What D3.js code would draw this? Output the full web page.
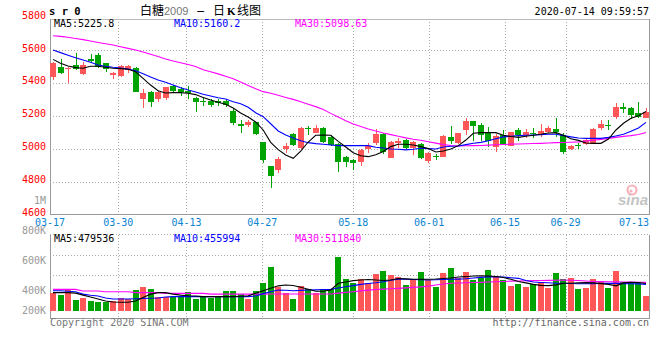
<!DOCTYPE html>
<html><head><meta charset="utf-8">
<script src="https://cdn.jsdelivr.net/npm/d3@7/dist/d3.min.js"></script>
<style>html,body{margin:0;padding:0;background:#fff;}svg{display:block}</style>
</head><body><svg id="c" width="660" height="360"></svg>
<script>
// ---------- DATA ----------
const dates = ["03-17","03-18","03-19","03-20","03-23","03-24","03-25","03-26","03-27","03-30","03-31",
"04-01","04-02","04-03","04-07","04-08","04-09","04-10","04-13","04-14","04-15","04-16","04-17","04-20","04-21","04-22","04-23","04-24","04-27","04-28","04-29","04-30",
"05-06","05-07","05-08","05-11","05-12","05-13","05-14","05-15","05-18","05-19","05-20","05-21","05-22","05-25","05-26","05-27","05-28","05-29",
"06-01","06-02","06-03","06-04","06-05","06-08","06-09","06-10","06-11","06-12","06-15","06-16","06-17","06-18","06-19","06-22","06-23","06-24","06-29","06-30",
"07-01","07-02","07-03","07-06","07-07","07-08","07-09","07-10","07-13","07-14"];
const open  = [5438,5499,5482,5507,5454,5545,5570,5519,5446,5442,5478,5489,5302,5347,5302,5310,5381,5361,5351,5310,5290,5290,5290,5292,5231,5150,5144,5161,5041,4895,4871,5001,5090,5003,5128,5094,5128,5074,5029,4952,4932,4922,4997,5033,5090,4942,5033,5053,5003,5029,4928,4958,4952,5069,5037,5114,5169,5144,5098,5013,5084,5019,5114,5084,5094,5090,5104,5120,5084,5001,5023,5029,5029,5124,5147,5191,5252,5248,5215,5189];
const high  = [5529,5543,5495,5580,5529,5574,5584,5523,5468,5509,5507,5495,5361,5349,5351,5377,5385,5377,5381,5316,5306,5300,5300,5296,5246,5175,5175,5165,5041,4895,4952,5033,5098,5134,5138,5142,5134,5084,5033,4956,4936,4997,5033,5118,5094,5049,5063,5057,5049,5033,4980,4968,5084,5138,5098,5185,5169,5159,5130,5090,5114,5104,5124,5118,5124,5150,5138,5185,5098,5023,5037,5057,5128,5175,5175,5276,5280,5252,5286,5250];
const low   = [5418,5454,5398,5478,5448,5519,5489,5468,5426,5434,5462,5345,5246,5256,5286,5296,5341,5320,5302,5225,5260,5252,5260,5252,5144,5094,5134,5084,4916,4764,4851,4972,5017,4997,5084,5094,5037,5017,4861,4891,4871,4897,4976,5023,4966,4942,5003,4997,4962,4936,4911,4932,4948,5029,5029,5084,5049,5049,5013,4982,5023,5017,5049,5063,5063,5074,5094,5074,4968,4993,4997,5021,5027,5114,5114,5179,5215,5179,5185,5185];
const close = [5519,5462,5490,5487,5509,5533,5499,5485,5458,5503,5503,5347,5341,5286,5347,5373,5351,5347,5337,5286,5286,5266,5276,5264,5159,5138,5165,5088,4932,4837,4936,5017,5023,5128,5118,5128,5043,5023,4922,4918,4916,4993,5017,5090,4978,5043,5049,5003,5043,4942,4976,4948,5078,5049,5094,5169,5138,5084,5049,5078,5029,5100,5084,5100,5090,5108,5128,5100,4982,5017,5019,5053,5122,5150,5142,5252,5244,5205,5195,5225];
const ma5   = [5543,5519,5503,5493,5489,5501,5501,5495,5489,5487,5483,5468,5428,5387,5353,5339,5341,5341,5337,5329,5312,5296,5282,5270,5248,5217,5193,5163,5114,5039,4995,4962,4942,4986,5041,5082,5084,5082,5045,5011,4976,4958,4952,4964,4984,5013,5027,5027,5023,5013,5001,4980,4986,4999,5019,5053,5094,5098,5098,5098,5082,5074,5069,5076,5082,5088,5096,5098,5082,5061,5051,5035,5033,5033,5059,5114,5155,5185,5201,5225.8];
const ma10  = [5600,5584,5568,5553,5539,5525,5509,5501,5495,5491,5485,5474,5456,5436,5418,5404,5387,5371,5357,5345,5331,5321,5310,5302,5286,5274,5252,5219,5195,5152,5108,5084,5065,5049,5037,5031,5027,5023,5019,5019,5019,5019,5019,5009,5005,4999,4997,4993,4997,5003,5001,4999,5011,5015,5017,5025,5033,5039,5049,5061,5072,5076,5080,5082,5084,5086,5088,5088,5080,5072,5065,5063,5063,5063,5069,5078,5088,5106,5126,5160.2];
const ma30  = [5687,5683,5677,5670,5663,5655,5646,5638,5630,5620,5610,5600,5588,5574,5560,5545,5533,5522,5512,5500,5480,5468,5455,5440,5425,5405,5385,5365,5347,5337,5325,5312,5300,5285,5270,5256,5238,5215,5193,5170,5150,5135,5120,5108,5096,5086,5076,5066,5058,5052,5043,5034,5025,5020,5017,5018,5019,5020,5022,5024,5026,5028,5029,5030,5032,5033,5035,5037,5038,5040,5042,5047,5052,5057,5063,5069,5075,5080,5087,5098.63];
// volume in thousands
const volume = [378,361,419,310,333,300,292,286,300,330,320,412,446,423,344,344,344,344,392,320,354,333,344,402,402,368,320,405,487,651,446,385,317,456,423,378,423,419,748,525,487,522,481,576,607,566,543,464,522,597,515,446,587,638,532,597,515,532,617,543,515,456,474,443,471,497,433,587,522,535,423,433,525,497,433,607,497,497,497,354];
const volMa5  = [385,385,385,380,360,340,320,300,290,286,286,300,335,370,385,385,370,360,354,350,344,344,344,344,344,348,352,380,405,430,455,464,458,440,420,400,400,412,481,495,508,515,520,515,510,515,530,526,522,522,522,525,530,535,545,549,556,558,556,550,540,522,500,485,470,460,457,465,481,481,485,488,485,478,470,455,485,491,490,479.5];
const volMa10 = [405,405,400,395,370,358,350,330,320,320,320,322,325,327,330,340,344,344,344,344,344,344,344,344,344,344,344,350,375,395,412,410,405,408,412,414,417,419,432,446,457,470,479,486,497,512,524,522,520,517,515,517,520,522,524,527,535,542,547,548,545,538,532,510,495,490,486,482,481,479,476,476,478,480,481,480,478,476,475,470];
const volMa30 = [419,419,419,419,402,402,402,395,395,395,395,385,385,385,385,378,378,378,378,378,378,370,370,370,370,370,370,370,370,372,372,372,372,372,372,372,372,372,380,388,395,403,411,417,421,425,429,434,439,444,452,463,474,481,484,487,489,491,494,497,500,503,505,507,508,510,511,513,515,513,510,505,500,498,497,496,495,494,492,491];
const dateTicks  = ["03-17","03-30","04-13","04-27","05-18","06-01","06-15","06-29","07-13"];
const priceTicks = [5800,5600,5400,5200,5000,4800,4600];
const priceGrid  = [5600,5400,5200,5000,4800];
const volTicks   = ["800K","600K","400K","200K"];
const priceLegend = ["MA5:5225.8","MA10:5160.2","MA30:5098.63"];
const volLegend   = ["MA5:479536","MA10:455994","MA30:511840"];

// ---------- DRAW ----------
const svg = d3.select("#c");
const L=50, R=649, T=19, B=213.5, VT=234.5, VB=318.5;
const N = dates.length;
const MONO = "'DejaVu Sans Mono', monospace";
const RED = "#ff5757", GREEN = "#00a400";
const x  = d3.scaleLinear().domain([0, N-1]).range([53, 646]);
const xg = d3.scaleLinear().domain([0, N-1]).range([L, R]);
const y  = d3.scaleLinear().domain([4600, 5600]).range([214.6, 50]);
const yv = d3.scaleLinear().domain([200, 400]).range([310.7, 291.2]);
const cx = i => Math.round(x(i));

// grids
const grid = svg.append("g").attr("stroke","#aaa").attr("stroke-dasharray","1,2").attr("shape-rendering","crispEdges");
priceGrid.forEach(v=>{
  const gy = Math.round(y(v))+0.5;
  grid.append("line").attr("x1",L).attr("x2",R).attr("y1",gy).attr("y2",gy);
});
[255.5, 275.5].forEach(gy=>grid.append("line").attr("x1",L).attr("x2",R).attr("y1",gy).attr("y2",gy));
const tickIdx = dateTicks.map(d=>dates.indexOf(d));
tickIdx.forEach((i,k)=>{
  if (i===0 || k===dateTicks.length-1) return;
  const gx = Math.round(xg(i))+0.5;
  grid.append("line").attr("x1",gx).attr("x2",gx).attr("y1",T).attr("y2",B);
  grid.append("line").attr("x1",gx).attr("x2",gx).attr("y1",VT).attr("y2",VB);
});
grid.append("line").attr("x1",L).attr("x2",R).attr("y1",VT).attr("y2",VT);

// frames
const fr = svg.append("g").attr("stroke","#999").attr("shape-rendering","crispEdges").attr("fill","none");
fr.append("line").attr("x1",L).attr("x2",R+0.5).attr("y1",T+0.5).attr("y2",T+0.5).attr("stroke","#bbb");
fr.append("line").attr("x1",L+0.5).attr("x2",L+0.5).attr("y1",T).attr("y2",B+0.5);
fr.append("line").attr("x1",R+0.5).attr("x2",R+0.5).attr("y1",T).attr("y2",B+0.5);
fr.append("line").attr("x1",L).attr("x2",R+1).attr("y1",B+0.5).attr("y2",B+0.5);
fr.append("line").attr("x1",L+0.5).attr("x2",L+0.5).attr("y1",VT).attr("y2",VB);
fr.append("line").attr("x1",R+0.5).attr("x2",R+0.5).attr("y1",VT).attr("y2",VB);
fr.append("line").attr("x1",L).attr("x2",R+1).attr("y1",VB).attr("y2",VB);

// watermark
const wm = svg.append("g");
wm.append("circle").attr("cx",632).attr("cy",190).attr("r",4.5).attr("fill","none").attr("stroke","#f6b3bb").attr("stroke-width",2.2);
wm.append("circle").attr("cx",631).attr("cy",191).attr("r",1.6).attr("fill","#f6b3bb");
wm.append("text").attr("x",618).attr("y",205).attr("font-family","'Liberation Sans', Arial, sans-serif")
  .attr("font-size",15).attr("font-weight","bold").attr("font-style","italic").attr("fill","#c4c4c4").text("sina");

// candles
const up = i => close[i] >= open[i];
const cg = svg.append("g").attr("shape-rendering","crispEdges");
d3.range(N).forEach(i=>{
  const col = up(i) ? RED : GREEN;
  const c = cx(i);
  const yh = Math.round(y(high[i])), yl = Math.round(y(low[i]));
  cg.append("rect").attr("x",c).attr("width",1).attr("y",yh).attr("height",Math.max(1,yl-yh)).attr("fill",col);
  const y1 = Math.round(y(Math.max(open[i],close[i]))), y2 = Math.round(y(Math.min(open[i],close[i])));
  cg.append("rect").attr("x",c-3).attr("width",6).attr("y",y1).attr("height",Math.max(1,y2-y1)).attr("fill",col);
});

// volume bars
const vg = svg.append("g").attr("shape-rendering","crispEdges");
d3.range(N).forEach(i=>{
  const top = Math.round(yv(volume[i]));
  vg.append("rect").attr("x",cx(i)-3).attr("width",6).attr("y",top).attr("height",Math.round(yv(200))-top)
    .attr("fill", up(i) ? RED : GREEN);
});

// MA lines
const lineP = d3.line().x((d,i)=>x(i)).y(d=>y(d));
const lineV = d3.line().x((d,i)=>x(i)).y(d=>yv(d));
[[ma30,"#ff00ff"],[ma10,"#0000ff"],[ma5,"#000"]].forEach(([arr,c])=>
  svg.append("path").attr("d",lineP(arr)).attr("fill","none").attr("stroke",c).attr("stroke-width",1.1));
[[volMa30,"#ff00ff"],[volMa10,"#0000ff"],[volMa5,"#000"]].forEach(([arr,c])=>
  svg.append("path").attr("d",lineV(arr)).attr("fill","none").attr("stroke",c).attr("stroke-width",1.1));

function txt(xp, yp, s, opts={}) {
  return svg.append("text").attr("x",xp).attr("y",yp)
    .attr("font-family",opts.family||MONO).attr("font-size",opts.size||10)
    .attr("fill",opts.fill||"#000").attr("text-anchor",opts.anchor||"start")
    .attr("font-weight",opts.weight||"normal").text(s);
}

// price axis labels
priceTicks.forEach(v=>txt(46, y(v)+1.5, v, {anchor:"end", fill:"#f00"}));
txt(46, 203.5, "1M", {anchor:"end", fill:"#999"});
const volTickY = [234.3, 264, 294.3, 314.3];
volTicks.forEach((s,k)=>txt(46, volTickY[k], s, {anchor:"end", fill:"#999"}));

// date labels
tickIdx.forEach((i,k)=>{
  const lx = Math.min(xg(i), R - 15);
  txt(lx, 225.5, dateTicks[k], {anchor:"middle", fill:"#0a84d0"});
});

// legends
const legCols = ["#000","#0000ff","#ff00ff"], legX = [54,174,295];
priceLegend.forEach((s,k)=>txt(legX[k], 27, s, {fill:legCols[k]}));
volLegend.forEach((s,k)=>txt(legX[k], 242, s, {fill:legCols[k]}));

// header
txt(49, 15, "s r 0", {weight:"bold", size:10.5});
const CJK = "'Noto Sans CJK SC', sans-serif";
txt(140, 15, "白糖", {family:CJK, size:12});
txt(164, 15, "2009", {family:"'Liberation Sans', Arial, sans-serif", size:11, fill:"#777"});
txt(196, 15, "−", {family:"'DejaVu Sans', sans-serif", size:11});
txt(213, 15, "日", {family:CJK, size:12});
txt(227, 15, "K", {family:"'Liberation Serif', serif", size:11, weight:"bold"});
txt(237, 15, "线图", {family:CJK, size:12});
txt(649, 15, "2020-07-14 09:59:57", {anchor:"end"});

// footer
txt(50, 326, "Copyright 2020 SINA.COM", {fill:"#777"});
txt(649, 326, "http://finance.sina.com.cn", {anchor:"end", fill:"#666"});
</script></body></html>
